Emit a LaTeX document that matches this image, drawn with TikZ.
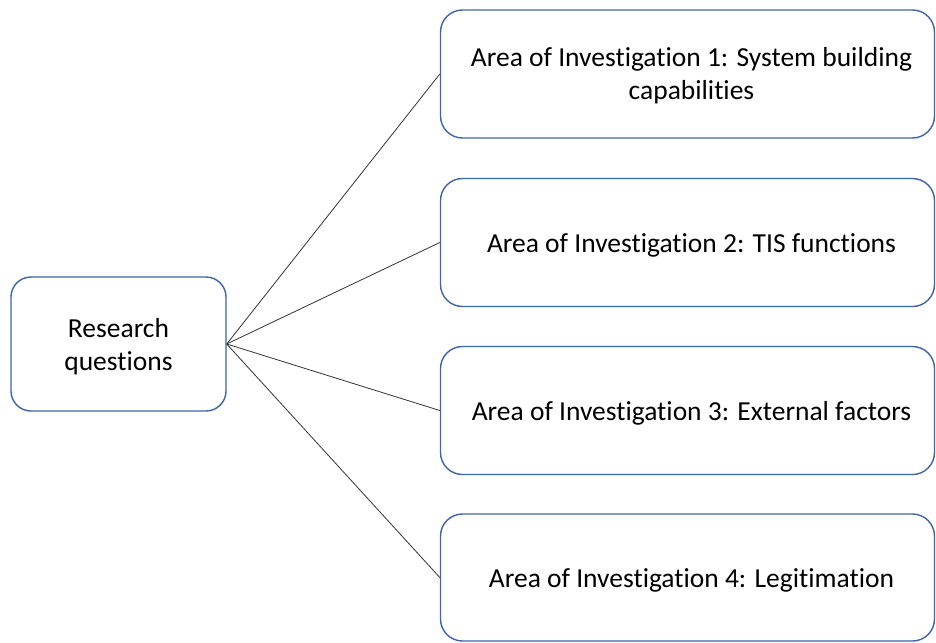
\documentclass[tikz,border=0pt]{standalone}
\usepackage{fontspec}
\setmainfont[Ligatures={NoCommon,NoContextual}]{Carlito}
\begin{document}
\begin{tikzpicture}[x=1pt,y=-1pt,
  box/.style={draw=boxblue, line width=1.4pt, rounded corners=22pt, fill=white,
    inner sep=0pt, minimum width=494pt, minimum height=128pt},
  lbl/.style={align=center, inner sep=0pt, font=\fontsize{27.5}{33}\selectfont},
  link/.style={draw=black!80, line width=0.8pt}]
\definecolor{boxblue}{HTML}{3E64AA}
\useasboundingbox (0,0) rectangle (936,642);
% source box
\node[box, minimum width=215pt, minimum height=134pt, rounded corners=20pt] (rq) at (118.5,344) {};
\node[lbl] (rqt) at ([yshift=-3pt]rq.center) {Research\\questions};
% the four areas
\node[box] (a1) at (687.5,74) {};
\node[box] (a2) at (687.5,242.5) {};
\node[box] (a3) at (687.5,410.5) {};
\node[box, minimum height=127pt] (a4) at (687.5,577.5) {};
\node[lbl] (a1t) at ([xshift=4pt,yshift=-2pt]a1.center) {Area of Investigation 1: System building\\capabilities};
\node[lbl] (a2t) at ([xshift=4pt,yshift=-3pt]a2.center) {Area of Investigation 2: TIS functions};
\node[lbl] (a3t) at ([xshift=4pt,yshift=-3pt]a3.center) {Area of Investigation 3: External factors};
\node[lbl] (a4t) at ([xshift=4pt,yshift=-3pt]a4.center) {Area of Investigation 4: Legitimation};
\foreach \t in {a1,a2,a3,a4}
  \draw[link] (rq.east) -- (\t.west);
\end{tikzpicture}
\end{document}
